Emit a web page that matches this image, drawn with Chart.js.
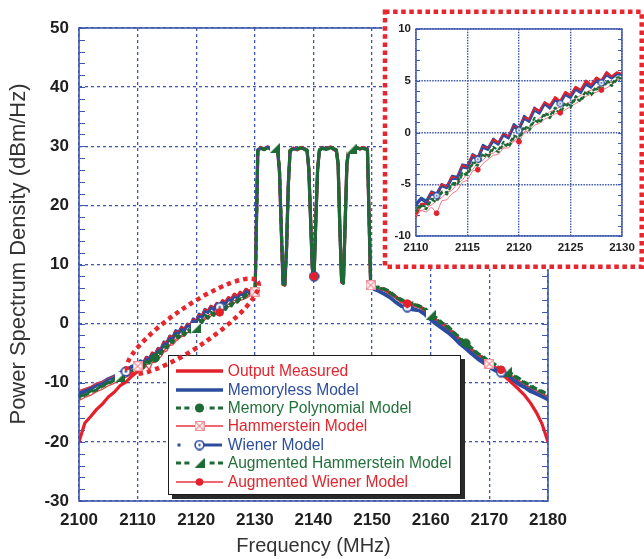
<!DOCTYPE html>
<html><head><meta charset="utf-8">
<script src="https://cdn.jsdelivr.net/npm/chart.js@4.4.1/dist/chart.umd.min.js"></script>
<style>
html,body{margin:0;padding:0;background:#fff;overflow:hidden;width:644px;height:559px;}
#wrap{position:relative;width:644px;height:559px;}
#wrap canvas{position:absolute;}
#main{left:0;top:0;z-index:1;}
#legend{position:absolute;left:168px;top:355px;width:293px;height:140px;background:#fff;border:1.5px solid #1a1a1a;box-shadow:4px 4px 0 #2a2a2a;box-sizing:border-box;z-index:2;font-family:'Liberation Sans',Arial,Helvetica,sans-serif;font-size:15.6px;}
#legend .row{position:absolute;left:0;width:100%;height:18px;}
#legend .row canvas{position:absolute;left:6.5px;top:0;}
#legend .row span{position:absolute;left:58.8px;top:0;line-height:18px;white-space:nowrap;}
#over{left:0;top:0;z-index:3;pointer-events:none;}
#inset{left:380px;top:7px;z-index:4;}
</style></head>
<body><div id="wrap">
<canvas id="main" width="644" height="559"></canvas>
<div id="legend"></div>
<canvas id="over" width="644" height="559"></canvas>
<canvas id="inset" width="264" height="264"></canvas>
</div>
<script>
// ---------------- DATA ----------------
const freq = [
 2100,2101,2102,2103,2104,2105,2106,2107,2108,2109,2110,
 2110.5,2111,2111.5,2112,2112.5,2113,2113.5,2114,2114.5,2115,
 2115.5,2116,2116.5,2117,2117.5,2118,2118.5,2119,2119.5,2120,
 2120.5,2121,2121.5,2122,2122.5,2123,2123.5,2124,2124.5,2125,
 2125.5,2126,2126.5,2127,2127.5,2128,2128.5,2129,2129.5,2130.05,
 2130.5,2131,2131.6,2132.2,2132.8,2133.4,
 2133.9,2134.2,2134.5,2134.8,2135.1,2135.4,2135.7,2136,
 2136.5,2137.2,2137.9,2138.5,
 2138.9,2139.2,2139.5,2139.8,2140.1,2140.4,2140.7,2141,
 2141.5,2142.2,2142.9,2143.5,
 2143.9,2144.2,2144.5,2144.8,2145.1,2145.4,2145.7,2146,
 2146.5,2147.2,2147.9,2148.5,2149.2,2149.75,
 2150.3,2151,2152,2153,2154,2155,2156,2157,2158,2159,
 2160,2161,2162,2163,2164,2165,2166,2167,2168,2169,
 2170,2171,2172,2173,2174,2175,2176,2177,2178,2179,2180
];
const outputMeasured = [
 -20.0,-16.8,-15.7,-14.5,-13.6,-12.4,-11.6,-10.5,-9.9,-8.9,-8.1,
 -6.9,-6.9,-5.8,-6.2,-5.0,-5.3,-4.3,-4.5,-3.2,-3.4,
 -2.2,-2.5,-1.4,-1.6,-0.7,-1.0,-0.2,-0.4,0.6,0.3,
 1.4,1.3,2.3,2.1,2.9,2.6,3.4,3.0,3.9,3.6,
 4.4,4.1,5.0,4.6,5.3,5.0,5.8,5.4,5.8,5.6,
 29.3,29.8,29.5,29.9,29.4,29.7,
 29.2,25.8,16.2,6.6,6.5,12.5,23.4,29.2,
 29.7,29.4,29.8,29.5,
 29.3,26.2,17.8,9.4,8.0,17.6,26.0,29.3,
 29.8,29.5,29.9,29.4,
 29.3,27.0,16.0,7.0,6.9,17.0,27.2,29.3,
 29.6,29.9,29.5,29.8,29.5,6.6,
 6.2,5.8,5.9,5.2,4.6,3.8,3.6,3.2,3.0,2.3,
 1.6,0.5,0.0,-0.9,-1.6,-2.8,-3.4,-4.5,-5.1,-6.0,
 -6.6,-7.4,-8.4,-9.3,-10.2,-11.1,-12.1,-13.4,-15.0,-17.0,-20.0
];
const memorylessModel = [
 -11.8,-11.2,-10.9,-10.2,-9.9,-9.3,-8.9,-8.3,-7.9,-7.2,-6.9,
 -6.3,-6.6,-5.7,-5.9,-5.0,-5.2,-4.2,-4.3,-3.1,-3.2,
 -2.1,-2.4,-1.2,-1.5,-0.6,-1.0,-0.1,-0.4,0.8,0.4,
 1.6,1.2,2.4,2.0,2.9,2.5,3.3,2.9,3.8,3.5,
 4.3,4.0,4.8,4.5,5.1,4.9,5.8,5.3,5.7,5.6,
 29.4,29.6,29.6,29.8,29.5,29.6,
 29.1,25.5,16.0,6.8,6.6,12.8,23.6,29.1,
 29.6,29.5,29.7,29.6,
 29.2,26.0,17.5,9.2,8.1,17.8,26.2,29.2,
 29.7,29.6,29.8,29.5,
 29.2,26.8,15.8,7.1,7.0,17.2,27.0,29.2,
 29.7,29.8,29.6,29.7,29.6,6.4,
 5.8,5.5,5.0,4.4,3.6,2.9,2.7,2.3,2.2,1.5,
 0.6,-0.2,-0.9,-1.6,-2.5,-3.5,-4.3,-5.2,-6.0,-6.7,
 -7.4,-8.0,-8.5,-9.0,-9.6,-10.3,-10.8,-11.5,-11.9,-12.4,-12.9
];
const memoryPolynomialModel = [
 -12.4,-12.0,-11.4,-11.1,-10.4,-10.0,-9.4,-9.0,-8.4,-8.0,-7.4,
 -7.0,-7.2,-6.4,-6.5,-5.7,-5.8,-4.9,-4.9,-3.9,-3.9,
 -2.9,-3.0,-2.0,-2.2,-1.4,-1.7,-0.9,-1.2,-0.3,-0.5,
 0.6,0.4,1.4,1.1,1.9,1.6,2.4,2.1,2.9,2.6,
 3.5,3.2,4.0,3.8,4.4,4.3,5.0,4.7,5.3,5.4,
 29.2,29.7,29.4,29.8,29.5,29.6,
 29.3,26.0,16.5,6.7,6.6,12.6,23.2,29.3,
 29.6,29.5,29.8,29.4,
 29.3,26.4,18.0,9.5,8.0,17.4,25.8,29.4,
 29.7,29.4,29.8,29.5,
 29.4,27.2,16.2,7.1,6.8,16.8,27.0,29.4,
 29.5,29.8,29.6,29.7,29.4,6.5,
 6.1,6.2,5.9,5.5,4.6,4.1,3.5,3.5,3.0,2.6,
 1.6,1.0,0.1,-0.5,-1.5,-2.4,-3.3,-4.1,-5.0,-5.6,
 -6.4,-6.9,-7.5,-7.9,-8.6,-9.2,-9.9,-10.4,-11.0,-11.4,-12.0
];
const hammersteinModel = [
 -11.3,-11.0,-10.6,-10.1,-9.8,-9.3,-8.9,-8.4,-8.0,-7.5,-7.2,
 -7.6,-7.3,-7.0,-6.6,-6.3,-5.8,-5.6,-4.9,-4.6,-3.9,
 -3.6,-2.9,-2.7,-2.1,-2.0,-1.6,-1.5,-1.0,-0.8,-0.4,
 0.0,0.6,1.0,1.4,1.6,2.0,2.2,2.5,2.7,3.0,
 3.3,3.6,3.9,4.1,4.3,4.5,4.7,4.9,5.1,5.4,
 29.3,29.7,29.6,29.8,29.4,29.7,
 29.2,25.7,16.1,6.7,6.5,12.4,23.3,29.2,
 29.7,29.4,29.8,29.5,
 29.2,26.1,17.7,9.3,8.0,17.5,26.1,29.3,
 29.8,29.5,29.9,29.4,
 29.3,26.9,15.9,7.0,6.9,16.9,27.1,29.3,
 29.6,29.9,29.5,29.8,29.5,6.5,
 6.0,5.8,5.6,4.9,4.3,3.5,3.3,2.9,2.7,2.0,
 1.3,0.3,-0.2,-1.1,-1.8,-3.0,-3.6,-4.7,-5.3,-6.2,
 -6.8,-7.5,-7.8,-8.5,-8.9,-9.8,-10.2,-11.0,-11.3,-12.0,-12.3
];
const wienerModel = [
 -12.2,-11.6,-11.2,-10.5,-10.2,-9.5,-9.2,-8.5,-8.1,-7.4,-7.1,
 -6.5,-6.8,-6.0,-6.1,-5.2,-5.4,-4.5,-4.5,-3.4,-3.5,
 -2.4,-2.6,-1.5,-1.7,-0.9,-1.2,-0.3,-0.6,0.5,0.2,
 1.3,1.0,2.1,1.8,2.7,2.3,3.1,2.8,3.6,3.3,
 4.1,3.8,4.6,4.3,4.9,4.8,5.5,5.2,5.6,5.6,
 29.4,29.7,29.5,29.9,29.4,29.6,
 29.2,25.6,16.0,6.7,6.6,12.7,23.5,29.2,
 29.6,29.5,29.7,29.5,
 29.3,26.1,17.6,9.3,8.0,17.7,26.0,29.3,
 29.7,29.5,29.8,29.5,
 29.2,26.9,16.1,7.1,6.9,17.0,27.1,29.3,
 29.6,29.8,29.5,29.7,29.5,6.5,
 5.9,5.6,5.2,4.6,3.8,3.1,2.8,2.6,2.3,1.8,
 0.8,0.2,-0.6,-1.3,-2.2,-3.2,-3.9,-4.9,-5.7,-6.4,
 -7.1,-7.7,-8.2,-8.7,-9.3,-10.0,-10.6,-11.2,-11.7,-12.2,-12.7
];
const augmentedHammersteinModel = [
 -12.6,-12.1,-11.6,-11.2,-10.6,-10.1,-9.6,-9.1,-8.6,-8.1,-7.6,
 -7.1,-7.4,-6.5,-6.7,-5.8,-6.0,-5.0,-5.1,-4.0,-4.1,
 -3.0,-3.2,-2.2,-2.4,-1.6,-1.9,-1.1,-1.4,-0.5,-0.7,
 0.4,0.2,1.2,0.9,1.7,1.4,2.2,1.9,2.7,2.4,
 3.3,3.0,3.8,3.6,4.2,4.1,4.8,4.5,5.1,5.3,
 29.2,29.6,29.5,29.7,29.5,29.7,
 29.3,26.1,16.4,6.8,6.6,12.5,23.1,29.3,
 29.5,29.6,29.7,29.5,
 29.4,26.3,17.9,9.6,8.1,17.3,25.9,29.4,
 29.6,29.5,29.7,29.6,
 29.4,27.1,16.3,7.2,6.9,16.7,26.9,29.4,
 29.6,29.7,29.6,29.6,29.4,6.6,
 6.0,6.1,5.8,5.3,4.5,3.9,3.6,3.3,2.9,2.4,
 1.5,0.7,0.0,-0.7,-1.6,-2.6,-3.4,-4.3,-5.1,-5.8,
 -6.5,-7.1,-7.6,-8.1,-8.7,-9.4,-10.0,-10.6,-11.1,-11.6,-12.1
];
const augmentedWienerModel = [
 -13.0,-12.5,-12.1,-11.5,-11.1,-10.5,-10.1,-9.5,-9.1,-8.5,-8.1,
 -7.5,-7.7,-7.2,-7.8,-6.6,-6.5,-5.9,-5.6,-4.8,-4.6,
 -3.7,-3.6,-3.0,-2.6,-2.2,-2.1,-1.5,-1.5,-0.8,-0.9,
 0.0,0.2,0.7,0.9,1.3,1.5,1.8,1.9,2.2,2.5,
 2.8,3.1,3.5,3.7,3.9,4.1,4.3,4.6,5.0,5.3,
 29.3,29.8,29.5,29.8,29.4,29.7,
 29.2,25.8,16.1,6.6,6.5,12.6,23.4,29.2,
 29.7,29.4,29.8,29.5,
 29.3,26.2,17.8,9.4,8.0,17.6,26.0,29.3,
 29.8,29.5,29.9,29.4,
 29.3,27.0,16.0,7.0,6.9,17.0,27.2,29.3,
 29.6,29.9,29.5,29.8,29.5,6.6,
 6.1,5.9,5.7,5.1,4.3,3.8,3.4,3.1,2.7,2.2,
 1.3,0.5,-0.2,-0.9,-1.8,-2.8,-3.6,-4.5,-5.3,-6.0,
 -6.8,-7.2,-7.8,-8.3,-8.9,-9.6,-10.2,-10.8,-11.3,-11.8,-12.3
];
const seriesNames = ['Output Measured','Memoryless Model','Memory Polynomial Model','Hammerstein Model','Wiener Model','Augmented Hammerstein Model','Augmented Wiener Model'];
const xTicksMain = [2100,2110,2120,2130,2140,2150,2160,2170,2180];
const yTicksMain = [-30,-20,-10,0,10,20,30,40,50];
const xTicksInset = [2110,2115,2120,2125,2130];
const yTicksInset = [-10,-5,0,5,10];
const xTitle = 'Frequency (MHz)';
const yTitle = 'Power Spectrum Density (dBm/Hz)';
// frequencies at which each model's marker symbol is shown
const markMain = {
  memPoly:[2113,2140.1,2166],
  hammer:[2110,2130.05,2149.75,2170],
  wiener:[2108,2124,2140.1,2156,2172],
  augHam:[2107,2120,2133.4,2146.5,2160,2173],
  augWiener:[2124,2140.1,2156,2172]
};
const markInset = {
  wiener:[2112,2116,2120,2124,2128],
  augWiener:[2112,2116,2120,2124,2128]
};
const zoomRegion = {center:[2119.4,-0.45], rx:79, ry:20, angleDeg:-34.5};

// ---------------- STYLE ----------------
const FONT = "'Liberation Sans', Arial, Helvetica, sans-serif";
const C = {red:'#e3202b', blue:'#2b4c9f', green:'#1c6b34', redThin:'#ec3540', pink:'#f08c96', grid:'#3d58ad', dotRed:'#e8262d'};

function mk(w,h,draw){const c=document.createElement('canvas');c.width=w;c.height=h;draw(c.getContext('2d'),w,h);return c;}
function hammerImg(s){return mk(s,s,(g,w,h)=>{g.fillStyle='#fff';g.fillRect(0,0,w,h);g.strokeStyle=C.pink;g.lineWidth=1.1;g.strokeRect(0.6,0.6,w-1.2,h-1.2);g.beginPath();g.moveTo(1,1);g.lineTo(w-1,h-1);g.moveTo(w-1,1);g.lineTo(1,h-1);g.stroke();});}
function wienerImg(s,lw){return mk(s,s,(g,w,h)=>{g.beginPath();g.arc(w/2,h/2,w/2-lw/2-0.3,0,Math.PI*2);g.fillStyle='#fff';g.fill();g.strokeStyle=C.blue;g.lineWidth=lw;g.stroke();g.beginPath();g.arc(w/2,h/2,Math.max(0.9,w/9),0,Math.PI*2);g.fillStyle=C.blue;g.fill();});}
function augHamImg(s){return mk(s,s,(g,w,h)=>{g.fillStyle='#fff';g.fillRect(0,0,w,h);g.beginPath();g.moveTo(0,h);g.lineTo(w,0);g.lineTo(w,h);g.closePath();g.fillStyle=C.green;g.fill();});}

function pts(vals){return freq.map((f,i)=>({x:f,y:vals[i]}));}
function pick(vals,at){return pts(vals).filter(p=>at.some(m=>Math.abs(m-p.x)<1e-6));}
function line(label,vals,color,width,dash,order,dashOff,clip){
  const d={label,data:pts(vals),borderColor:color,backgroundColor:color,borderWidth:width,borderDash:dash||[],borderDashOffset:dashOff||0,
    pointRadius:0,pointHoverRadius:0,borderJoinStyle:'round',borderCapStyle:'butt',order,fill:false,tension:0};
  if(clip!==undefined) d.clip=clip;
  return d;
}
function marks(label,vals,at,style,radius,color,order){
  return {label,data:pick(vals,at),showLine:false,pointStyle:style,pointRadius:radius,pointHoverRadius:radius,
    pointBackgroundColor:color,pointBorderColor:color,pointBorderWidth:1,order};
}

const framePlugin = (minorStep,tickLen,lw)=>({
  id:'frame',
  beforeDatasetsDraw(chart){
    const {ctx,chartArea:a,scales:{y}}=chart;
    ctx.save();
    ctx.strokeStyle=C.grid;ctx.lineWidth=lw;ctx.setLineDash([]);
    ctx.strokeRect(a.left,a.top,a.right-a.left,a.bottom-a.top);
    ctx.lineWidth=1.2;
    ctx.beginPath();
    for(let v=y.min;v<=y.max+1e-9;v+=minorStep){
      const py=Math.round(y.getPixelForValue(v))+0.5;
      ctx.moveTo(a.left,py);ctx.lineTo(a.left+tickLen,py);
      ctx.moveTo(a.right,py);ctx.lineTo(a.right-tickLen,py);
    }
    ctx.stroke();
    ctx.restore();
  }
});
// y-axis title drawn a little above the plot centre, as in the original figure
const yTitlePlugin = {
  id:'yTitle',
  afterDraw(chart){
    const ctx=chart.ctx;ctx.save();
    ctx.translate(19,254);ctx.rotate(-Math.PI/2);
    ctx.font="22px "+FONT;ctx.fillStyle='#333';ctx.textAlign='center';ctx.textBaseline='middle';
    ctx.fillText(yTitle,0,0);
    ctx.restore();
  }
};

function scaleOpts(min,max,ticksArr,fontSize,pad,dash,gridW,title,titleOpts,fit){
  return {
    type:'linear',min,max,
    afterBuildTicks(s){s.ticks=ticksArr.map(v=>({value:v}));},
    ticks:{color:'#1e1e1e',font:{family:FONT,size:fontSize,weight:'bold'},padding:pad,maxRotation:0,autoSkip:false,callback:v=>String(v)},
    grid:{color:C.grid,lineWidth:gridW,drawTicks:false},
    border:{display:false,dash},
    title:title?Object.assign({display:true,text:title,color:'#333',font:{family:FONT,size:20,weight:'normal'}},titleOpts):{display:false},
    afterFit:fit
  };
}

// ---------------- MAIN CHART ----------------
const mainDatasets = [
  line(seriesNames[1],memorylessModel,C.blue,3.2,null,20),
  line(seriesNames[0],outputMeasured,C.red,3.2,null,19),
  line(seriesNames[3],hammersteinModel,C.redThin,1.2,null,18),
  line(seriesNames[6],augmentedWienerModel,C.redThin,1.2,null,17),
  line(seriesNames[4],wienerModel,C.blue,2.4,null,16),
  line(seriesNames[2],memoryPolynomialModel,C.green,3,[6,3.5],15),
  line(seriesNames[5],augmentedHammersteinModel,C.green,3,[6,3.5],14,4.5),
  marks(seriesNames[2],memoryPolynomialModel,markMain.memPoly,'circle',4.2,C.green,5),
  marks(seriesNames[3],hammersteinModel,markMain.hammer,hammerImg(10),5,C.pink,4),
  marks(seriesNames[5],augmentedHammersteinModel,markMain.augHam,augHamImg(10),5,C.green,3),
  marks(seriesNames[4],wienerModel,markMain.wiener,wienerImg(11,1.6),5,C.blue,2),
  marks(seriesNames[6],augmentedWienerModel,markMain.augWiener,'circle',3.8,C.red,1)
];

const mainChart = new Chart(document.getElementById('main'),{
  type:'line',
  data:{datasets:mainDatasets},
  options:{
    responsive:false,animation:false,events:[],
    layout:{padding:{left:0,right:96,top:28,bottom:0}},
    plugins:{legend:{display:false},tooltip:{enabled:false}},
    scales:{
      x:scaleOpts(2100,2180,xTicksMain,17,9,[3,3],1.3,xTitle,{padding:{top:2,bottom:1}},s=>{s.height=58;}),
      y:scaleOpts(-30,50,yTicksMain,17,10,[3,3],1.3,null,null,s=>{s.width=79;})
    }
  },
  plugins:[framePlugin(2,6,1.6),yTitlePlugin]
});

// ---------------- ZOOM ELLIPSE (overlay) ----------------
(function(){
  const g=document.getElementById('over').getContext('2d');
  const xs=mainChart.scales.x, ys=mainChart.scales.y;
  const cx=xs.getPixelForValue(zoomRegion.center[0]), cy=ys.getPixelForValue(zoomRegion.center[1]);
  g.save();
  g.strokeStyle=C.dotRed;g.lineWidth=4.5;g.setLineDash([4.5,4]);
  g.beginPath();
  g.ellipse(cx,cy,zoomRegion.rx,zoomRegion.ry,zoomRegion.angleDeg*Math.PI/180,0,Math.PI*2);
  g.stroke();
  g.restore();
})();

// ---------------- LEGEND ----------------
(function(){
  const lg=document.getElementById('legend');
  const textColors=['#e0262e','#2e4d9c','#22703a','#e0262e','#2e4d9c','#22703a','#e0262e'];
  const draw=[
    g=>{g.strokeStyle=C.red;g.lineWidth=3.5;g.beginPath();g.moveTo(0,9);g.lineTo(47,9);g.stroke();},
    g=>{g.strokeStyle=C.blue;g.lineWidth=3.5;g.beginPath();g.moveTo(0,9);g.lineTo(47,9);g.stroke();},
    g=>{g.strokeStyle=C.green;g.lineWidth=3;g.setLineDash([5,3.4]);g.beginPath();g.moveTo(0,9);g.lineTo(47,9);g.stroke();
        g.setLineDash([]);g.fillStyle='#fff';g.fillRect(17,3,13,12);g.beginPath();g.arc(23.5,9,4.6,0,Math.PI*2);g.fillStyle=C.green;g.fill();},
    g=>{g.strokeStyle=C.redThin;g.lineWidth=1.4;g.beginPath();g.moveTo(0,9);g.lineTo(47,9);g.stroke();g.drawImage(hammerImg(10),18.5,4);},
    g=>{g.fillStyle=C.blue;g.fillRect(1.5,7.5,3,3);g.strokeStyle=C.blue;g.lineWidth=3;g.beginPath();g.moveTo(27,9);g.lineTo(46,9);g.stroke();g.drawImage(wienerImg(11,1.6),18,3.5);},
    g=>{g.strokeStyle=C.green;g.lineWidth=3;g.setLineDash([5,3.4]);g.beginPath();g.moveTo(0,9);g.lineTo(47,9);g.stroke();
        g.setLineDash([]);g.fillStyle='#fff';g.fillRect(16,3,15,12);g.drawImage(augHamImg(10),18.5,4);},
    g=>{g.strokeStyle=C.redThin;g.lineWidth=1.4;g.beginPath();g.moveTo(0,9);g.lineTo(47,9);g.stroke();g.beginPath();g.arc(23.5,9,3.8,0,Math.PI*2);g.fillStyle=C.red;g.fill();}
  ];
  seriesNames.forEach((name,i)=>{
    const row=document.createElement('div');row.className='row';row.style.top=(15.2+18.4*i-9)+'px';
    const cv=document.createElement('canvas');cv.width=48;cv.height=18;draw[i](cv.getContext('2d'));
    const sp=document.createElement('span');sp.textContent=name;sp.style.color=textColors[i];
    row.appendChild(cv);row.appendChild(sp);lg.appendChild(row);
  });
})();

// ---------------- INSET CHART ----------------
const insetBg = {
  id:'insetBg',
  beforeDraw(chart){
    const ctx=chart.ctx;ctx.save();
    ctx.fillStyle='#fff';ctx.fillRect(2.5,2.2,262,260);
    ctx.restore();
  },
  afterDraw(chart){
    const ctx=chart.ctx;ctx.save();
    ctx.strokeStyle=C.dotRed;ctx.lineWidth=4.5;ctx.setLineDash([4.5,3.6]);
    ctx.strokeRect(5,4.7,256.7,255);
    ctx.restore();
  }
};
const insetDatasets = [
  line(seriesNames[1],memorylessModel,C.blue,2.4,null,20,0,0),
  line(seriesNames[0],outputMeasured,C.red,2.4,null,19,0,0),
  line(seriesNames[3],hammersteinModel,'#f27a85',1,null,18,0,0),
  line(seriesNames[6],augmentedWienerModel,'#f27a85',1,null,17,0,0),
  line(seriesNames[4],wienerModel,C.blue,1.8,null,16,0,0),
  line(seriesNames[2],memoryPolynomialModel,C.green,2.2,[4,2.5],15,0,0),
  line(seriesNames[5],augmentedHammersteinModel,C.green,2.2,[4,2.5],14,3,0),
  marks(seriesNames[4],wienerModel,markInset.wiener,wienerImg(8,1.3),4,C.blue,2),
  marks(seriesNames[6],augmentedWienerModel,markInset.augWiener,'circle',2.4,C.red,1)
];
const insetChart = new Chart(document.getElementById('inset'),{
  type:'line',
  data:{datasets:insetDatasets},
  options:{
    responsive:false,animation:false,events:[],
    layout:{padding:{left:0,right:22,top:22,bottom:0}},
    plugins:{legend:{display:false},tooltip:{enabled:false}},
    scales:{
      x:scaleOpts(2110,2130,xTicksInset,11.5,5,[1.5,1.2],1.4,null,null,s=>{s.height=35;}),
      y:scaleOpts(-10,10,yTicksInset,11.5,5,[1.5,1.2],1.4,null,null,s=>{s.width=36;})
    }
  },
  plugins:[insetBg,framePlugin(1,4,1.4)]
});
</script>
</body></html>
